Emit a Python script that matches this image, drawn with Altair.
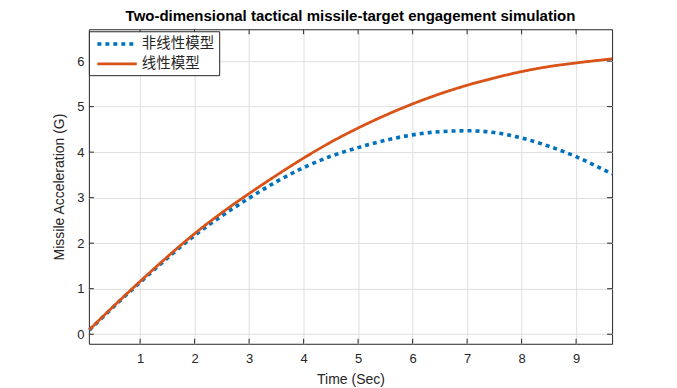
import altair as alt
import pandas as pd

# ---- data ----
time_s = [0.07, 0.5, 1.0, 1.5, 2.0, 2.5, 3.0, 3.5, 4.0, 4.5, 5.0, 5.5, 6.0, 6.5, 7.0, 7.5, 8.0, 8.5, 9.0, 9.66]
nonlinear_g = [0.09, 0.59, 1.14, 1.67, 2.17, 2.60, 2.99, 3.35, 3.66, 3.91, 4.10, 4.26, 4.38, 4.45, 4.47, 4.43, 4.31, 4.13, 3.90, 3.52]
linear_g = [0.10, 0.60, 1.16, 1.70, 2.21, 2.67, 3.09, 3.49, 3.87, 4.22, 4.53, 4.81, 5.06, 5.28, 5.47, 5.63, 5.77, 5.88, 5.96, 6.05]
series_names = ["非线性模型", "线性模型"]
series_colors = ["#0072BD", "#D95319"]
x_ticks = [1, 2, 3, 4, 5, 6, 7, 8, 9]
y_ticks = [0, 1, 2, 3, 4, 5, 6]
x_domain = [0.06, 9.66]
y_domain = [-0.21, 6.70]

rows = []
for name, vals in zip(series_names, [nonlinear_g, linear_g]):
    for t, v in zip(time_s, vals):
        rows.append({"t": t, "g": v, "series": name})
df = pd.DataFrame(rows)
xt = pd.DataFrame({"v": x_ticks})
yt = pd.DataFrame({"v": y_ticks})

W, H = 524, 315
INK = "#262626"
LATIN = "Liberation Sans, Arial, sans-serif"
CJK = "Noto Sans CJK SC, sans-serif"

xs = alt.Scale(domain=x_domain, nice=False, zero=False)
ys = alt.Scale(domain=y_domain, nice=False, zero=False)
x_axis = alt.Axis(values=x_ticks, ticks=False, domain=False, grid=True, labelPadding=9, titlePadding=7,
                  labelFont=LATIN, labelFontSize=13, labelColor=INK,
                  titleFont=LATIN, titleFontSize=14, titleColor=INK, titleFontWeight="normal")
y_axis = alt.Axis(values=y_ticks, ticks=False, domain=False, grid=True, labelPadding=5, titlePadding=10,
                  labelFont=LATIN, labelFontSize=13, labelColor=INK,
                  titleFont=LATIN, titleFontSize=14, titleColor=INK, titleFontWeight="normal")
X_T = "Time (Sec)"
Y_T = "Missile Acceleration (G)"
dash_scale = alt.Scale(domain=series_names, range=[[4, 4], [1, 0]])
color_scale = alt.Scale(domain=series_names, range=series_colors)
width_scale = alt.Scale(domain=series_names, range=[3.6, 2.8])

lines = alt.Chart(df).mark_line(interpolate="monotone", strokeCap="butt").encode(
    x=alt.X("t:Q", scale=xs, title=X_T, axis=x_axis),
    y=alt.Y("g:Q", scale=ys, title=Y_T, axis=y_axis),
    color=alt.Color("series:N", scale=color_scale, legend=None),
    strokeDash=alt.StrokeDash("series:N", scale=dash_scale, legend=None),
    strokeWidth=alt.StrokeWidth("series:N", scale=width_scale, legend=None),
    order=alt.Order("t:Q"),
)

def rule_x(y0, y1):
    return alt.Chart(xt).mark_rule(color=INK, strokeWidth=1).encode(
        x=alt.X("v:Q", scale=xs, title=X_T, axis=x_axis), y=alt.value(y0), y2=alt.value(y1))

def rule_y(x0, x1):
    return alt.Chart(yt).mark_rule(color=INK, strokeWidth=1).encode(
        y=alt.Y("v:Q", scale=ys, title=Y_T, axis=y_axis), x=alt.value(x0), x2=alt.value(x1))

ticks = [rule_x(H, H - 5), rule_x(0, 5), rule_y(0, 5), rule_y(W, W - 5)]

# legend (drawn inside the plot, top-left)
leg_df = pd.DataFrame({"series": series_names})
leg_box = alt.Chart(leg_df.head(1)).mark_rect(fill="white", stroke=INK, strokeWidth=1).encode(
    x=alt.value(0.5), x2=alt.value(131), y=alt.value(2.5), y2=alt.value(46.5))
leg_layers = [leg_box]
row_y = [14.7, 34.7]
for i, name in enumerate(series_names):
    one = leg_df.iloc[[i]]
    leg_layers.append(alt.Chart(one).mark_rule().encode(
        x=alt.value(8.5), x2=alt.value(48), y=alt.value(row_y[i]),
        color=alt.Color("series:N", scale=color_scale, legend=None),
        strokeDash=alt.StrokeDash("series:N", scale=dash_scale, legend=None),
        strokeWidth=alt.StrokeWidth("series:N", scale=width_scale, legend=None)))
    leg_layers.append(alt.Chart(one).mark_text(
        align="left", baseline="middle", font=CJK, fontSize=14.5, color=INK).encode(
        x=alt.value(53), y=alt.value(row_y[i] + 0.5), text="series:N"))

chart = alt.layer(lines, *ticks, *leg_layers).properties(
    width=W, height=H,
    title=alt.Title("Two-dimensional tactical missile-target engagement simulation",
                    font=LATIN, fontSize=15, fontWeight="bold", color="black",
                    anchor="middle", offset=5),
    autosize=alt.AutoSizeParams(type="none"),
    padding={"left": 81, "top": 21, "right": 57, "bottom": 44},
    background="white",
).configure_view(
    stroke=INK, strokeWidth=1
).configure_axis(
    gridColor="#dfdfdf", gridWidth=1,
)

chart.save("out.html", embed_options={"renderer": "svg", "actions": False})
